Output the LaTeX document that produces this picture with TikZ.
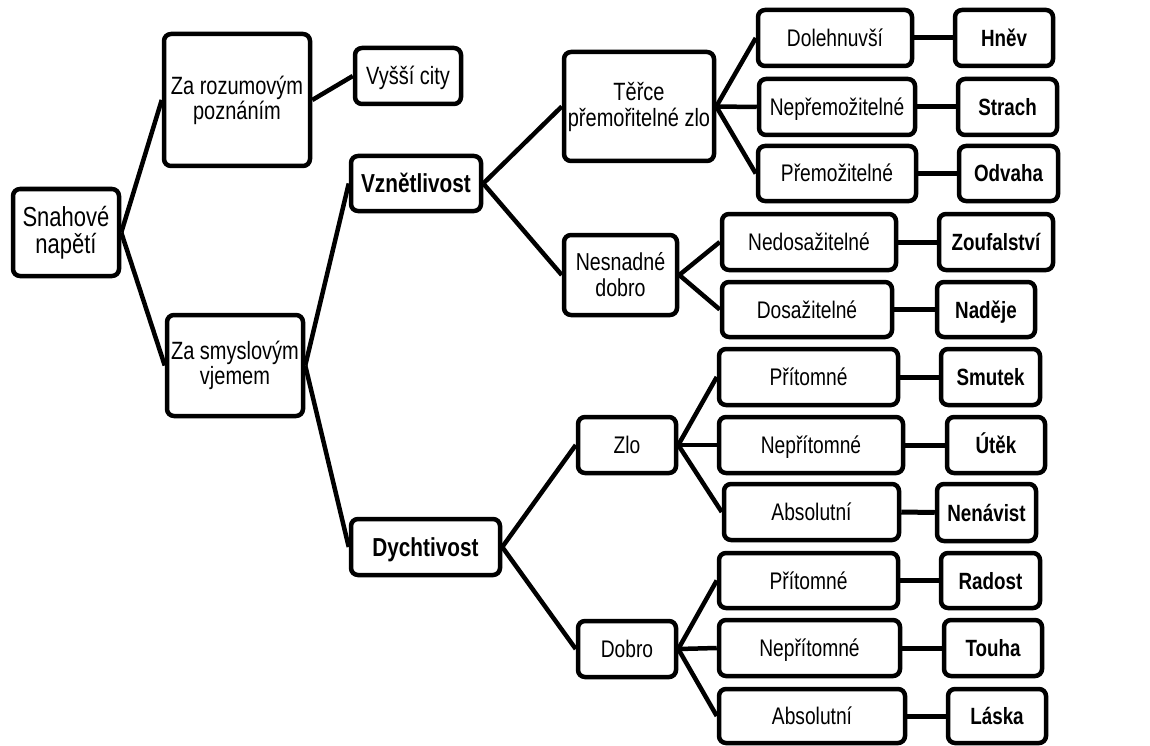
\documentclass[tikz,border=0pt]{standalone}
\usepackage{fontspec}
\setmainfont{Liberation Sans}[FakeStretch=0.8]
\usepackage{tikz}

\tikzset{
  block/.style={draw, line width=4.5pt, rounded corners=7pt, fill=white,
    inner sep=0pt, minimum width=98pt, minimum height=56pt},
  box/.style={block, text height=17pt, text depth=0pt},
  key/.style={box, font=\fontsize{23.5}{25}\selectfont\bfseries},
  link/.style={line width=4.5pt},
}

\begin{document}
\begin{tikzpicture}[x=1pt, y=-1pt, font=\fontsize{24}{25}\selectfont]
  \useasboundingbox (0,0) rectangle (1150,746);
  % Nodes
  % first levels
  \node[block, align=center, minimum width=106pt, minimum height=87pt, font=\fontsize{27.5}{27}\selectfont] (snaha) at (66,232.5) {Snahové\\napětí};
  \node[block, align=center, minimum width=146pt, minimum height=132pt, font=\fontsize{25}{25}\selectfont] (rozum) at (237,100) {Za rozumovým\\poznáním};
  \node[box, minimum width=106pt, text height=18pt, font=\fontsize{25}{25}\selectfont] (vyssi) at (408,76) {Vyšší city};
  \node[block, align=center, minimum width=136pt, minimum height=101pt, font=\fontsize{25}{25}\selectfont] (smysl) at (235,365.5) {Za smyslovým\\vjemem};
  \node[box, minimum width=130pt, minimum height=55pt, text height=18.6pt, font=\fontsize{26}{26}\selectfont\bfseries] (vznet) at (416,183.5) {Vznětlivost};
  \node[box, minimum width=149pt, text height=18.6pt, font=\fontsize{26}{26}\selectfont\bfseries] (dycht) at (425.5,547) {Dychtivost};
  % objects
  \node[block, align=center, minimum width=150pt, minimum height=109pt, font=\fontsize{25}{26}\selectfont] (terce) at (639,106.5) {Těřce\\přemořitelné zlo};
  \node[block, align=center, minimum width=113pt, minimum height=80pt, font=\fontsize{24.5}{26}\selectfont] (nesnad) at (620.5,275) {Nesnadné\\dobro};
  \node[box] (zlo) at (627,445) {Zlo};
  \node[box] (dobro) at (627,649) {Dobro};
  % kinds
  \node[box, minimum width=154pt] (doleh) at (835,38) {Dolehnuvší};
  \node[box, minimum width=156pt] (neprem) at (837,107) {Nepřemožitelné};
  \node[box, minimum width=158pt, minimum height=55pt] (prem) at (837,173.5) {Přemožitelné};
  \node[box, minimum width=174pt] (nedos) at (809,242) {Nedosažitelné};
  \node[box, minimum width=170pt, minimum height=55pt] (dosaz) at (807,309.5) {Dosažitelné};
  \node[box, minimum width=179pt] (pritZ) at (808.5,377) {Přítomné};
  \node[box, minimum width=184pt] (nepritZ) at (811,445) {Nepřítomné};
  \node[box, minimum width=175pt] (absZ) at (811.5,512) {Absolutní};
  \node[box, minimum width=179pt, minimum height=55pt] (pritD) at (808.5,580.5) {Přítomné};
  \node[box, minimum width=181pt] (nepritD) at (809.5,648) {Nepřítomné};
  \node[box, minimum width=186pt, minimum height=54pt] (absD) at (812,716) {Absolutní};
  % passions
  \node[key] (hnev) at (1004,38) {Hněv};
  \node[key, minimum width=99pt] (strach) at (1007.5,107) {Strach};
  \node[key, minimum width=99pt, minimum height=55pt] (odvaha) at (1008.5,173.5) {Odvaha};
  \node[key, minimum width=114pt] (zoufal) at (996,242) {Zoufalství};
  \node[key, minimum height=55pt] (nadeje) at (986,309.5) {Naděje};
  \node[key, minimum width=99pt] (smutek) at (990.5,377) {Smutek};
  \node[key] (utek) at (996,445) {Útěk};
  \node[key, minimum width=99pt, minimum height=57pt] (nenav) at (986.5,512.5) {Nenávist};
  \node[key, minimum width=99pt, minimum height=55pt] (radost) at (990.5,580.5) {Radost};
  \node[key] (touha) at (993,648) {Touha};
  \node[key, minimum height=54pt] (laska) at (997,716) {Láska};

  % Edges
  \draw[link] (snaha.east) -- (rozum.west);
  \draw[link] (snaha.east) -- (smysl.west);
  \draw[link] (rozum.east) -- (vyssi.west);
  \draw[link] (smysl.east) -- (vznet.west);
  \draw[link] (smysl.east) -- (dycht.west);
  \draw[link] (vznet.east) -- (terce.west);
  \draw[link] (vznet.east) -- (nesnad.west);
  \draw[link] (dycht.east) -- (zlo.west);
  \draw[link] (dycht.east) -- (dobro.west);
  \foreach \a/\b in {terce/doleh, terce/neprem, terce/prem, nesnad/nedos, nesnad/dosaz,
      zlo/pritZ, zlo/nepritZ, zlo/absZ, dobro/pritD, dobro/nepritD, dobro/absD}
    \draw[link] (\a.east) -- (\b.west);
  \foreach \a/\b in {doleh/hnev, neprem/strach, prem/odvaha, nedos/zoufal, dosaz/nadeje,
      pritZ/smutek, nepritZ/utek, absZ/nenav, pritD/radost, nepritD/touha, absD/laska}
    \draw[link, line width=5pt] (\a.east) -- (\b.west);
\end{tikzpicture}
\end{document}
